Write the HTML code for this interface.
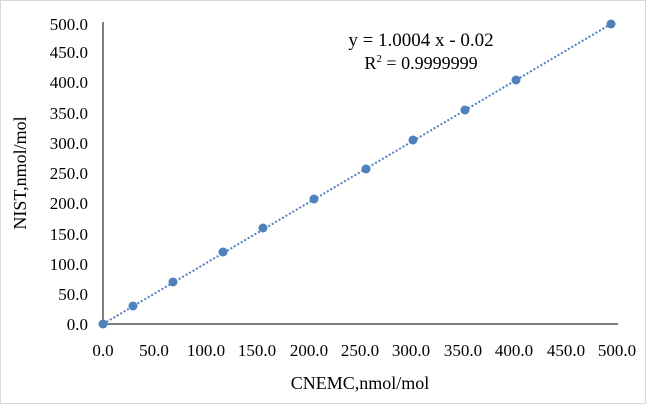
<!DOCTYPE html>
<html><head><meta charset="utf-8"><style>
body{margin:0;background:#fff}
svg{display:block;font-family:"Liberation Serif",serif}
</style></head><body>
<svg width="646" height="404" viewBox="0 0 646 404">
<rect x="0.5" y="0.5" width="645" height="403" fill="#fff" stroke="#d9d9d9"/>
<line x1="103" y1="22" x2="103" y2="324" stroke="#000"/>
<line x1="103" y1="324" x2="618" y2="324" stroke="#000"/>
<g font-size="17" fill="#000" text-anchor="end">
<text x="88" y="330">0.0</text><text x="88" y="300">50.0</text><text x="88" y="270">100.0</text><text x="88" y="240">150.0</text><text x="88" y="209">200.0</text><text x="88" y="179">250.0</text><text x="88" y="149">300.0</text><text x="88" y="119">350.0</text><text x="88" y="88">400.0</text><text x="88" y="58">450.0</text><text x="88" y="30">500.0</text>
</g>
<g font-size="17" fill="#000" text-anchor="middle">
<text x="103" y="356">0.0</text><text x="154" y="356">50.0</text><text x="206" y="356">100.0</text><text x="257" y="356">150.0</text><text x="309" y="356">200.0</text><text x="360" y="356">250.0</text><text x="411" y="356">300.0</text><text x="463" y="356">350.0</text><text x="514" y="356">400.0</text><text x="566" y="356">450.0</text><text x="617" y="356">500.0</text>
<text x="360" y="389" font-size="18">CNEMC,nmol/mol</text>
<text transform="translate(26,173) rotate(-90)" font-size="18">NIST,nmol/mol</text>
<text x="421" y="46" font-size="19">y = 1.0004 x - 0.02</text>
<text x="421" y="69" font-size="18">R<tspan font-size="11" dy="-7">2</tspan><tspan dy="7"> = 0.9999999</tspan></text>
</g>
<line x1="103" y1="324" x2="611" y2="24" stroke="#4f81bd" stroke-width="2" stroke-dasharray="2,2"/>
<g fill="#4f81bd">
<circle cx="103" cy="324" r="4.5"/><circle cx="133" cy="306" r="4.5"/><circle cx="173" cy="282" r="4.5"/><circle cx="223" cy="252" r="4.5"/><circle cx="263" cy="228" r="4.5"/><circle cx="314" cy="199" r="4.5"/><circle cx="366" cy="169" r="4.5"/><circle cx="413" cy="140" r="4.5"/><circle cx="465" cy="110" r="4.5"/><circle cx="516" cy="80" r="4.5"/><circle cx="611" cy="24" r="4.5"/>
</g>
</svg>
</body></html>
